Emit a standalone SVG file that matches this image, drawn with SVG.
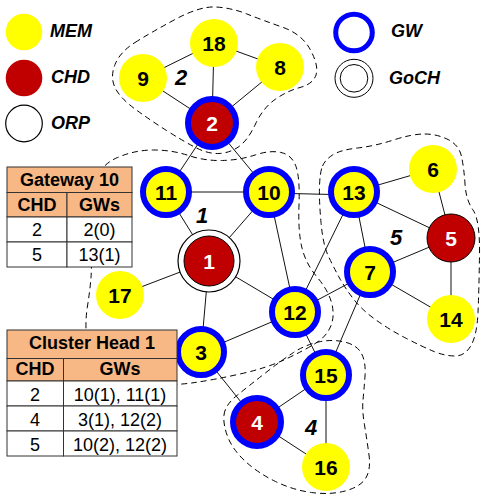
<svg xmlns="http://www.w3.org/2000/svg" width="481" height="496" viewBox="0 0 481 496">
  <style>
    .cluster { fill: none; stroke: #000; stroke-width: 1; stroke-dasharray: 6 4; }
    .edge { stroke: #111; stroke-width: 1; }
    .mem { fill: #FFFF00; }
    .chd { fill: #C00000; stroke: #000; stroke-width: 1; }
    .gw { fill: #FFFF00; stroke: #0000FF; stroke-width: 6; }
    .gwchd { fill: #C00000; stroke: #0000FF; stroke-width: 6; }
    .orp { fill: #fff; stroke: #000; stroke-width: 1.2; }
    .num { font-family: "Liberation Sans", Arial, sans-serif; font-weight: bold; font-size: 21px; text-anchor: middle; fill: #000; }
    .num.w { fill: #fff; }
    .clab { font-family: "Liberation Sans", Arial, sans-serif; font-weight: bold; font-style: italic; font-size: 22px; text-anchor: middle; fill: #000; }
    .leg { font-family: "Liberation Sans", Arial, sans-serif; font-weight: bold; font-style: italic; font-size: 18px; fill: #000; }
    .cell { stroke: #333; stroke-width: 1; }
    .hd { fill: #F7B886; }
    .bd { fill: #fff; }
    .th { font-family: "Liberation Sans", Arial, sans-serif; font-weight: bold; font-size: 18px; text-anchor: middle; fill: #000; }
    .td { font-family: "Liberation Sans", Arial, sans-serif; font-size: 18px; text-anchor: middle; fill: #000; }
  </style>

  <!-- cluster boundaries -->
  <g id="clusters">
    <path id="cluster-2" class="cluster" d="M135,42.5 Q150,33 175,19.5 Q200,6 216,7 Q232,8 247,14 Q262,20 282,27 Q302,34 310.5,50 Q319,66 316,75 Q313,84 300,87.5 Q287,91 275,99.5 Q263,108 255.5,124 Q248,140 239,146.5 Q230,153 219,153.5 Q208,154 195.5,147.5 Q183,141 166.5,130.5 Q150,120 135,109 Q120,98 115,87.5 Q110,77 115,64.5 Q120,52 135,42.5 Z"/>
    <path id="cluster-1" class="cluster" d="M95,182.5 Q100,165 117.5,157.5 Q135,150 153.5,150 Q172,150 188.5,155.5 Q205,161 222.5,160.5 Q240,160 255,155 Q270,150 281,152.5 Q292,155 296,166.5 Q300,178 299,205 Q298,232 302,248 Q306,264 317,277 Q328,290 331.5,302.5 Q335,315 331,325.5 Q327,336 316,343 Q305,350 286,359 Q267,368 240,374 Q213,380 191.5,383 Q170,386 145,383 Q120,380 104,365 Q88,350 86.5,336 Q85,322 87.5,306 Q90,290 91,277.5 Q92,265 91,232.5 Q90,200 95,182.5 Z"/>
    <path id="cluster-5" class="cluster" d="M322.5,166 Q325,160 332.5,155 Q340,150 357.5,148 Q375,146 393.5,140 Q412,134 424.5,134 Q437,134 448,139.5 Q459,145 461.5,156.5 Q464,168 465,184 Q466,200 473,210 Q480,220 479.5,255 Q479,290 478,312.5 Q477,335 471,345.5 Q465,356 455,356 Q445,356 434,351.5 Q423,347 406.5,338.5 Q390,330 376,320 Q362,310 353.5,299 Q345,288 339.5,278 Q334,268 328.5,256.5 Q323,245 321,222.5 Q319,200 319.5,186 Q320,172 322.5,166 Z"/>
    <path id="cluster-4" class="cluster" d="M224,415 Q225,405 237.5,395 Q250,385 266,372.5 Q282,360 293.5,352.5 Q305,345 318.5,342 Q332,339 344.5,342 Q357,345 361.5,353.5 Q366,362 365,376 Q364,390 363,400 Q362,410 364.5,425 Q367,440 369,455 Q371,470 365.5,478.5 Q360,487 345,491 Q330,495 311.5,492.5 Q293,490 275.5,481.5 Q258,473 245.5,461.5 Q233,450 228,437.5 Q223,425 224,415 Z"/>
  </g>

  <!-- links between nodes -->
  <g id="connectors">
    <line class="edge" x1="143" y1="78" x2="214" y2="43"/>
    <line class="edge" x1="214" y1="43" x2="280" y2="67"/>
    <line class="edge" x1="143" y1="78" x2="212" y2="123"/>
    <line class="edge" x1="214" y1="43" x2="212" y2="123"/>
    <line class="edge" x1="280" y1="67" x2="212" y2="123"/>
    <line class="edge" x1="212" y1="123" x2="166" y2="192"/>
    <line class="edge" x1="212" y1="123" x2="269" y2="192"/>
    <line class="edge" x1="166" y1="192" x2="269" y2="192"/>
    <line class="edge" x1="166" y1="192" x2="209" y2="261"/>
    <line class="edge" x1="269" y1="192" x2="209" y2="261"/>
    <line class="edge" x1="269" y1="193" x2="354" y2="195"/>
    <line class="edge" x1="269" y1="192" x2="295" y2="312"/>
    <line class="edge" x1="354" y1="192" x2="433" y2="169"/>
    <line class="edge" x1="354" y1="192" x2="451" y2="238"/>
    <line class="edge" x1="354" y1="192" x2="370" y2="272"/>
    <line class="edge" x1="354" y1="192" x2="295" y2="312"/>
    <line class="edge" x1="433" y1="169" x2="451" y2="238"/>
    <line class="edge" x1="451" y1="238" x2="370" y2="272"/>
    <line class="edge" x1="451" y1="238" x2="451" y2="319"/>
    <line class="edge" x1="370" y1="272" x2="451" y2="319"/>
    <line class="edge" x1="370" y1="272" x2="295" y2="312"/>
    <line class="edge" x1="370" y1="272" x2="326" y2="375"/>
    <line class="edge" x1="209" y1="261" x2="120" y2="295"/>
    <line class="edge" x1="209" y1="261" x2="295" y2="312"/>
    <line class="edge" x1="209" y1="261" x2="201" y2="352"/>
    <line class="edge" x1="201" y1="352" x2="295" y2="312"/>
    <line class="edge" x1="201" y1="352" x2="257" y2="422"/>
    <line class="edge" x1="295" y1="312" x2="326" y2="375"/>
    <line class="edge" x1="326" y1="375" x2="257" y2="422"/>
    <line class="edge" x1="326" y1="375" x2="326" y2="467"/>
    <line class="edge" x1="257" y1="422" x2="326" y2="467"/>
  </g>

  <!-- nodes -->
  <g id="node-9"><circle class="mem" cx="143" cy="78" r="24"/><text class="num" x="143" y="85.5">9</text></g>
  <g id="node-18"><circle class="mem" cx="214" cy="43" r="24"/><text class="num" x="214" y="50.5">18</text></g>
  <g id="node-8"><circle class="mem" cx="280" cy="67" r="24"/><text class="num" x="280" y="74.5">8</text></g>
  <g id="node-2"><circle class="gwchd" cx="212" cy="123" r="24"/><text class="num w" x="212" y="130.5">2</text></g>
  <g id="node-11"><circle class="gw" cx="166" cy="192" r="23"/><text class="num" x="166" y="199.5">11</text></g>
  <g id="node-10"><circle class="gw" cx="269" cy="192" r="23"/><text class="num" x="269" y="199.5">10</text></g>
  <g id="node-13"><circle class="gw" cx="354" cy="192" r="23"/><text class="num" x="354" y="199.5">13</text></g>
  <g id="node-6"><circle class="mem" cx="433" cy="169" r="24"/><text class="num" x="433" y="176.5">6</text></g>
  <g id="node-5"><circle class="chd" cx="451" cy="238" r="24"/><text class="num w" x="451" y="245.5">5</text></g>
  <g id="node-1">
    <circle class="orp" cx="209" cy="261" r="31"/>
    <circle class="chd" cx="209" cy="261" r="25"/>
    <text class="num w" x="209" y="268.5">1</text>
  </g>
  <g id="node-7"><circle class="gw" cx="370" cy="272" r="23"/><text class="num" x="370" y="279.5">7</text></g>
  <g id="node-17"><circle class="mem" cx="120" cy="295" r="24"/><text class="num" x="120" y="302.5">17</text></g>
  <g id="node-12"><circle class="gw" cx="295" cy="312" r="23"/><text class="num" x="295" y="319.5">12</text></g>
  <g id="node-14"><circle class="mem" cx="451" cy="319" r="24"/><text class="num" x="451" y="326.5">14</text></g>
  <g id="node-3"><circle class="gw" cx="201" cy="352" r="23"/><text class="num" x="201" y="359.5">3</text></g>
  <g id="node-15"><circle class="gw" cx="326" cy="375" r="23"/><text class="num" x="326" y="382.5">15</text></g>
  <g id="node-4"><circle class="gwchd" cx="257" cy="422" r="24"/><text class="num w" x="257" y="429.5">4</text></g>
  <g id="node-16"><circle class="mem" cx="326" cy="467" r="24"/><text class="num" x="326" y="474.5">16</text></g>

  <!-- cluster numbers -->
  <g id="cluster-labels">
    <text class="clab" x="181" y="85">2</text>
    <text class="clab" x="202" y="223">1</text>
    <text class="clab" x="396" y="245">5</text>
    <text class="clab" x="311" y="435">4</text>
  </g>

  <!-- routing table of gateway 10 -->
  <g id="table-gateway-10">
    <rect class="cell hd" x="7" y="167" width="125" height="25.5"/>
    <rect class="cell hd" x="7" y="192.5" width="60" height="24.5"/>
    <rect class="cell hd" x="67" y="192.5" width="65" height="24.5"/>
    <rect class="cell bd" x="7" y="217" width="60" height="25"/>
    <rect class="cell bd" x="67" y="217" width="65" height="25"/>
    <rect class="cell bd" x="7" y="242" width="60" height="25"/>
    <rect class="cell bd" x="67" y="242" width="65" height="25"/>
    <text class="th" x="69.5" y="185.5">Gateway 10</text>
    <text class="th" x="37" y="210.5">CHD</text>
    <text class="th" x="99.5" y="210.5">GWs</text>
    <text class="td" x="37" y="236">2</text>
    <text class="td" x="99.5" y="236">2(0)</text>
    <text class="td" x="37" y="261">5</text>
    <text class="td" x="99.5" y="261">13(1)</text>
  </g>

  <!-- routing table of cluster head 1 -->
  <g id="table-cluster-head-1">
    <rect class="cell hd" x="7" y="330" width="170" height="28.5"/>
    <rect class="cell hd" x="7" y="358.5" width="56.5" height="22.5"/>
    <rect class="cell hd" x="63.5" y="358.5" width="113.5" height="22.5"/>
    <rect class="cell bd" x="7" y="381" width="56.5" height="25"/>
    <rect class="cell bd" x="63.5" y="381" width="113.5" height="25"/>
    <rect class="cell bd" x="7" y="406" width="56.5" height="25"/>
    <rect class="cell bd" x="63.5" y="406" width="113.5" height="25"/>
    <rect class="cell bd" x="7" y="431" width="56.5" height="25"/>
    <rect class="cell bd" x="63.5" y="431" width="113.5" height="25"/>
    <text class="th" x="92" y="348.5">Cluster Head 1</text>
    <text class="th" x="35" y="374.5">CHD</text>
    <text class="th" x="120" y="374.5">GWs</text>
    <text class="td" x="35" y="400.5">2</text>
    <text class="td" x="120" y="400.5">10(1), 11(1)</text>
    <text class="td" x="35" y="425.5">4</text>
    <text class="td" x="120" y="425.5">3(1), 12(2)</text>
    <text class="td" x="35" y="450.5">5</text>
    <text class="td" x="120" y="450.5">10(2), 12(2)</text>
  </g>

  <!-- legend -->
  <g id="legend">
    <g id="legend-mem"><circle class="mem" cx="24" cy="32" r="18.3"/><text class="leg" x="50" y="37">MEM</text></g>
    <g id="legend-chd"><circle fill="#C00000" cx="24" cy="78" r="18.3"/><text class="leg" x="51" y="83">CHD</text></g>
    <g id="legend-orp"><circle class="orp" cx="24" cy="123.5" r="18.3"/><text class="leg" x="51" y="128.5">ORP</text></g>
    <g id="legend-gw"><circle fill="none" stroke="#0000FF" stroke-width="5" cx="354" cy="32.5" r="18.3"/><text class="leg" x="391" y="37">GW</text></g>
    <g id="legend-goch">
      <circle fill="none" stroke="#000" stroke-width="1" cx="354" cy="78.3" r="19"/>
      <circle fill="none" stroke="#000" stroke-width="1" cx="354" cy="78.3" r="13.8"/>
      <text class="leg" x="389" y="83.5">GoCH</text>
    </g>
  </g>
</svg>
